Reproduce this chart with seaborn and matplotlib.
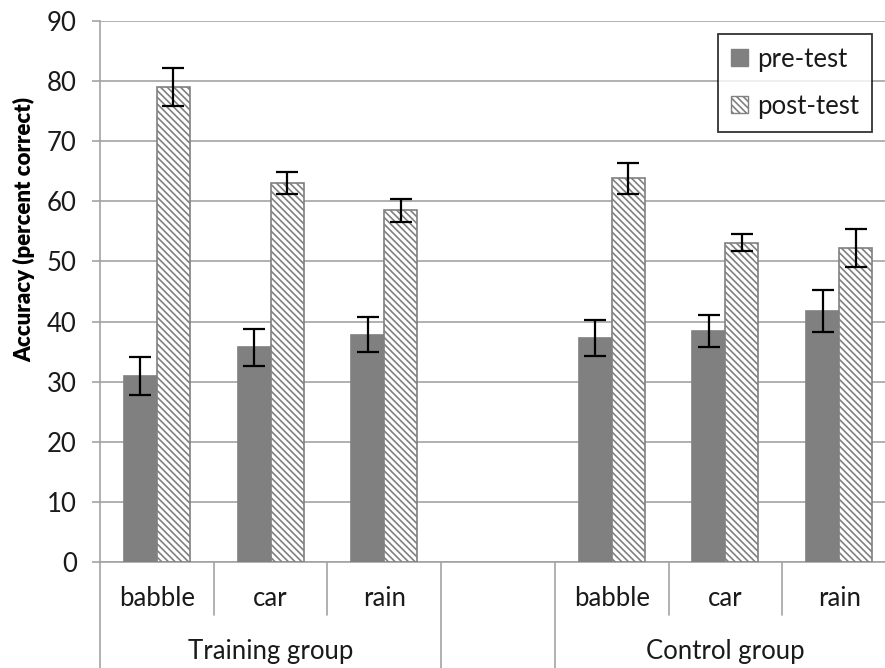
import matplotlib
matplotlib.use("Agg")
import matplotlib.pyplot as plt
from matplotlib.patches import Patch
import seaborn as sns
import pandas as pd

# ---- data -------------------------------------------------------------
groups = ["Training group", "Training group", "Training group",
          "Control group", "Control group", "Control group"]
noise_types = ["babble", "car", "rain", "babble", "car", "rain"]
pre_test = [30.9, 35.7, 37.8, 37.3, 38.4, 41.8]
pre_test_err = [3.2, 3.1, 2.9, 3.0, 2.7, 3.5]
post_test = [79.0, 63.1, 58.5, 63.8, 53.1, 52.2]
post_test_err = [3.2, 1.8, 1.9, 2.5, 1.4, 3.2]
series = ["pre-test", "post-test"]
group_names = ["Training group", "Control group"]
y_ticks = [0, 10, 20, 30, 40, 50, 60, 70, 80, 90]

# slot order on the x axis: three training conditions, an empty spacer, three control
slot_keys = [f"{g}|{n}" for g, n in zip(groups, noise_types)]
slot_order = slot_keys[:3] + ["spacer"] + slot_keys[3:]

rows = []
for key, pre, pe, post, po in zip(slot_keys, pre_test, pre_test_err, post_test, post_test_err):
    rows.append({"slot": key, "test": series[0], "accuracy": pre, "err": pe})
    rows.append({"slot": key, "test": series[1], "accuracy": post, "err": po})
df = pd.DataFrame(rows)

# ---- style ------------------------------------------------------------
sns.set_style("white")
plt.rcParams["font.family"] = ["Lato", "DejaVu Sans"]
plt.rcParams["hatch.linewidth"] = 1.2
plt.rcParams["hatch.color"] = "#808080"

GRAY = "#808080"
GRID = "#a3a3a3"
TEXT = "#1a1a1a"
FS = 18.5
HATCH = "\\\\\\\\\\"

fig = plt.figure(figsize=(8.85, 6.68), dpi=100)
ax = fig.add_axes([100 / 885, 106 / 668, 785 / 885, 541 / 668])

sns.barplot(data=df, x="slot", y="accuracy", hue="test",
            order=slot_order, hue_order=series,
            palette=[GRAY, "white"], width=0.58, errorbar=None,
            edgecolor=GRAY, linewidth=1.2, legend=False, ax=ax, zorder=3)

# hatch the post-test bars and add error bars
err_lookup = {s: dict(zip(slot_keys, e)) for s, e in zip(series, [pre_test_err, post_test_err])}
for s, cont in zip(series, ax.containers):
    for bar in cont:
        if s == "post-test":
            bar.set_hatch(HATCH)
            bar.set_facecolor("white")
        bar.set_edgecolor(GRAY)
        cx = bar.get_x() + bar.get_width() / 2
        idx = int(round(cx))
        key = slot_order[idx]
        ax.errorbar(cx, bar.get_height(), yerr=err_lookup[s][key], fmt="none",
                    ecolor="black", elinewidth=1.6, capsize=8, capthick=1.6, zorder=5)

# ---- axes -------------------------------------------------------------
ax.set_ylim(0, 90)
ax.set_xlim(-0.5, 6.403)
ax.set_yticks(y_ticks)
ax.set_yticklabels([str(t) for t in y_ticks], fontsize=FS, color=TEXT)
ax.tick_params(axis="y", length=5.8, width=1.2, color=GRID, pad=11, left=True)
ax.set_xticks([])
ax.set_xlabel("")
ax.set_ylabel("")
ax.yaxis.grid(True, color=GRID, linewidth=1.2, zorder=0)
ax.set_axisbelow(True)
for side in ["top", "right"]:
    ax.spines[side].set_visible(False)
for side in ["left", "bottom"]:
    ax.spines[side].set_color(GRID)
    ax.spines[side].set_linewidth(1.2)

# ---- two-level category axis -------------------------------------------
trans = ax.get_xaxis_transform()
short_y = -53 / 541
long_y = -110 / 541
for x in [0.5, 1.5, 4.5, 5.5]:
    ax.plot([x, x], [0, short_y], transform=trans, color=GRID, lw=1.2, clip_on=False)
for x in [-0.5, 2.5, 3.5]:
    ax.plot([x, x], [0, long_y], transform=trans, color=GRID, lw=1.2, clip_on=False)

for i, key in enumerate(slot_order):
    if key == "spacer":
        continue
    ax.text(i, -44 / 541, key.split("|")[1], transform=trans, ha="center",
            va="baseline", fontsize=FS, color=TEXT)
for gname, center in zip(group_names, [1, 5]):
    ax.text(center, -97 / 541, gname, transform=trans, ha="center",
            va="baseline", fontsize=FS, color=TEXT)

fig.text(24 / 885, 1 - 229 / 668, "Accuracy (percent correct)", rotation=90,
         ha="center", va="center", fontsize=16, family="Lato",
         fontweight=800, color="black")

# ---- legend -----------------------------------------------------------
handles = [Patch(facecolor=GRAY, edgecolor=GRAY, label=series[0]),
           Patch(facecolor="white", edgecolor=GRAY, hatch=HATCH, label=series[1])]
leg = ax.legend(handles=handles, loc="upper right", bbox_to_anchor=(0.983, 0.976),
                borderaxespad=0, fontsize=FS, frameon=True, fancybox=False,
                handlelength=0.65, handleheight=0.65, handletextpad=0.35,
                labelspacing=0.85, borderpad=0.5)
leg.get_frame().set_edgecolor("black")
leg.get_frame().set_linewidth(1.3)
for t in leg.get_texts():
    t.set_color(TEXT)

fig.savefig("out.png", dpi=100)
